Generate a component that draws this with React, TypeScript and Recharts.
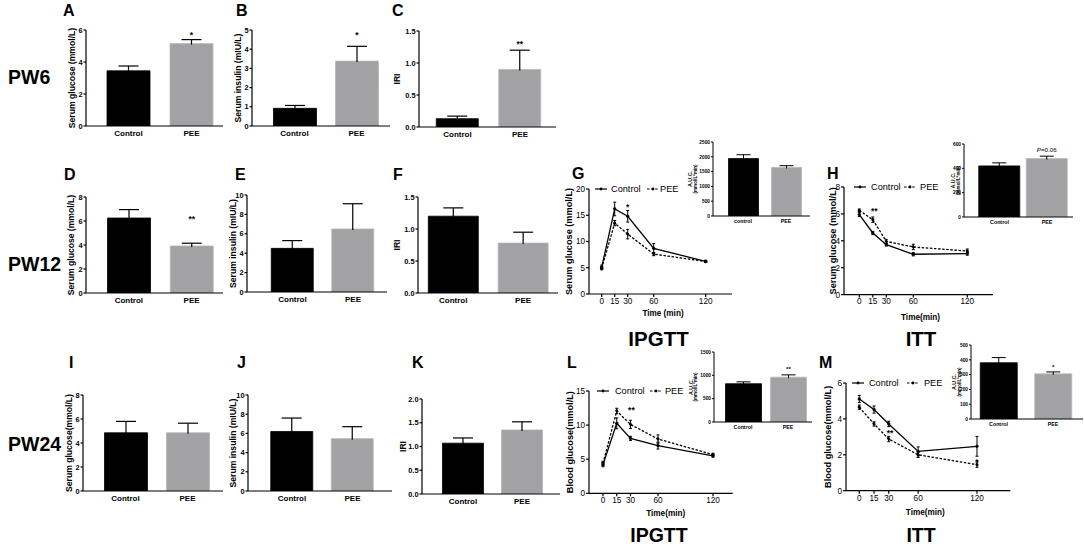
import React from 'react';
import {
  BarChart, Bar, Cell, XAxis, YAxis, LabelList, LineChart, Line, ErrorBar, ReferenceDot, Legend,
} from 'recharts';

const FONT = '"Liberation Sans", Arial, Helvetica, sans-serif';
const BLACK = '#000000';
const GREY = '#a2a2a5';

// ---------- categories ----------
const groups = ['Control', 'PEE'];
const groupsLower = ['control', 'PEE'];

// ---------- PW6 ----------
const glucosePW6 = [3.45, 5.15];
const glucosePW6Sem = [0.3, 0.25];
const glucosePW6Sig = ['', '*'];
const insulinPW6 = [0.92, 3.38];
const insulinPW6Sem = [0.15, 0.77];
const insulinPW6Sig = ['', '*'];
const iriPW6 = [0.13, 0.9];
const iriPW6Sem = [0.04, 0.3];
const iriPW6Sig = ['', '**'];

// ---------- PW12 ----------
const glucosePW12 = [6.25, 3.92];
const glucosePW12Sem = [0.7, 0.23];
const glucosePW12Sig = ['', '**'];
const insulinPW12 = [4.5, 6.5];
const insulinPW12Sem = [0.8, 2.6];
const iriPW12 = [1.2, 0.78];
const iriPW12Sem = [0.13, 0.17];

// ---------- PW24 ----------
const glucosePW24 = [4.85, 4.85];
const glucosePW24Sem = [0.95, 0.8];
const insulinPW24 = [6.2, 5.45];
const insulinPW24Sem = [1.4, 1.25];
const iriPW24 = [1.07, 1.35];
const iriPW24Sem = [0.11, 0.17];

// ---------- time courses ----------
const timePoints = [0, 15, 30, 60, 120];
const timeTicks = [0, 15, 30, 60, 120];

// G: IPGTT PW12
const ipgtt12Control = [5.1, 16.2, 14.8, 8.7, 6.2];
const ipgtt12ControlSem = [0.4, 1.3, 1.1, 0.9, 0.2];
const ipgtt12Pee = [4.9, 13.5, 11.4, 7.6, 6.2];
const ipgtt12PeeSem = [0.3, 0.5, 0.9, 0.3, 0.2];
const ipgtt12Marks = [{ t: 30, v: 16.95, text: '*' }];
const ipgtt12Auc = [1940, 1640];
const ipgtt12AucSem = [130, 60];
const ipgtt12AucSig = ['', ''];

// H: ITT PW12
const itt12Control = [5.95, 4.58, 3.71, 3.0, 3.05];
const itt12ControlSem = [0.15, 0.12, 0.1, 0.12, 0.12];
const itt12Pee = [6.26, 5.57, 3.96, 3.54, 3.24];
const itt12PeeSem = [0.1, 0.2, 0.15, 0.2, 0.15];
const itt12Marks = [{ t: 16.7, v: 6.34, text: '**' }];
const itt12Auc = [420, 480];
const itt12AucSem = [25, 20];
const itt12AucSig = ['', 'P=0.06'];

// L: IPGTT PW24
const ipgtt24Control = [4.2, 10.26, 8.06, 6.99, 5.5];
const ipgtt24ControlSem = [0.3, 0.8, 0.3, 0.5, 0.2];
const ipgtt24Pee = [4.4, 12.07, 10.1, 7.96, 5.67];
const ipgtt24PeeSem = [0.3, 0.4, 0.6, 0.6, 0.2];
const ipgtt24Marks = [{ t: 31, v: 12.46, text: '**' }];
const ipgtt24Auc = [820, 960];
const ipgtt24AucSem = [40, 50];
const ipgtt24AucSig = ['', '**'];

// M: ITT PW24
const itt24Control = [5.11, 4.52, 3.72, 2.19, 2.47];
const itt24ControlSem = [0.2, 0.2, 0.15, 0.25, 0.55];
const itt24Pee = [4.65, 3.72, 2.88, 2.0, 1.45];
const itt24PeeSem = [0.12, 0.12, 0.15, 0.15, 0.15];
const itt24Marks = [
  { t: 31.3, v: 3.31, text: '**' },
  { t: 120, v: 1.73, text: '*' },
];
const itt24Auc = [380, 305];
const itt24AucSem = [35, 13];
const itt24AucSig = ['', '*'];

// ---------- helpers ----------
type BarPanelProps = {
  axisX: number; plotTop: number; plotH: number; axisEnd: number;
  c1: number; c2: number; barSize: number; yAxisW: number;
  values: number[]; sems: number[]; sig?: string[]; cats: string[];
  domain: [number, number]; ticks: number[]; decimals: number;
  yLabel: string[]; labelX: number; labelGap?: number; labelFonts: number[];
  tickFont: number; catFont: number; capW: number; sigFont: number; sigLift: number;
  tickLen: number; strokeW: number; xAxisH: number; catMargin: number;
};

function BarPanel(p: BarPanelProps) {
  const mTop = 12;
  const mBottom = 2;
  const mRight = 6;
  const plotW = p.axisEnd - p.axisX;
  const d = p.c2 - p.c1;
  const padL = Math.max(0, p.c1 - p.axisX - d / 2);
  const padR = Math.max(0, p.axisEnd - p.c2 - d / 2);
  const left = p.axisX - p.yAxisW;
  const top = p.plotTop - mTop;
  const width = p.yAxisW + plotW + mRight;
  const height = mTop + p.plotH + p.xAxisH + mBottom;
  const data = p.cats.map((c, i) => ({
    name: c, mean: p.values[i], sem: p.sems[i], sig: p.sig ? p.sig[i] : '',
  }));

  const errShape = (props: any) => {
    const { x, y, width: w, height: h } = props;
    if (h == null || !isFinite(h) || !isFinite(y)) return <g />;
    const cx = x + w / 2;
    return (
      <g>
        <line x1={cx} x2={cx} y1={y} y2={y + h + 1} stroke={BLACK} strokeWidth={p.strokeW} />
        <line x1={cx - p.capW / 2} x2={cx + p.capW / 2} y1={y} y2={y} stroke={BLACK} strokeWidth={p.strokeW} />
      </g>
    );
  };

  const sigContent = (props: any) => {
    const { x, y, width: w, value } = props;
    if (!value) return null;
    const cx = Number(x) + Number(w) / 2;
    const s = String(value);
    const isP = s.startsWith('P');
    const base = Number(y) - p.sigLift + (isP ? 0.36 : 0.58) * p.sigFont;
    return (
      <text x={cx} y={base} textAnchor="middle" fontSize={p.sigFont} fill={BLACK} fontWeight={isP ? 400 : 700}>
        {isP ? (<><tspan fontStyle="italic">P</tspan>{s.slice(1)}</>) : s}
      </text>
    );
  };

  const yLabel = () => {
    const cx = p.labelX - left;
    const cy = mTop + p.plotH / 2;
    const gap = p.labelGap ?? 0;
    const n = p.yLabel.length;
    return (
      <g>
        {p.yLabel.map((line, i) => {
          const lx = cx + (i - (n - 1) / 2) * gap;
          return (
            <text key={i} x={lx} y={cy} transform={`rotate(-90 ${lx} ${cy})`} textAnchor="middle"
              dominantBaseline="central" fontSize={p.labelFonts[i]} fontWeight={700} fill={BLACK}>
              {line}
            </text>
          );
        })}
      </g>
    );
  };

  return (
    <div style={{ position: 'absolute', left, top }}>
      <BarChart width={width} height={height} data={data} barSize={p.barSize}
        margin={{ top: mTop, right: mRight, bottom: mBottom, left: 0 }}>
        <XAxis dataKey="name" padding={{ left: padL, right: padR }} height={p.xAxisH} interval={0}
          tickLine={false} tickSize={0} tickMargin={p.catMargin}
          axisLine={{ stroke: BLACK, strokeWidth: p.strokeW }}
          tick={{ fill: BLACK, fontSize: p.catFont, fontWeight: 700 }} />
        <YAxis width={p.yAxisW} domain={p.domain} ticks={p.ticks} allowDataOverflow interval={0}
          tickFormatter={(v: number) => v.toFixed(p.decimals)} tickSize={p.tickLen} tickMargin={1}
          tick={{ fill: BLACK, fontSize: p.tickFont, fontWeight: 700 }}
          axisLine={{ stroke: BLACK, strokeWidth: p.strokeW }}
          tickLine={{ stroke: BLACK, strokeWidth: p.strokeW }}
          label={yLabel} />
        <Bar dataKey="mean" stackId="s" isAnimationActive={false}>
          {data.map((_, i) => (
            <Cell key={i} fill={i === 0 ? BLACK : GREY} stroke={i === 0 ? BLACK : '#b8b8bb'} strokeWidth={0.8} />
          ))}
        </Bar>
        <Bar dataKey="sem" stackId="s" isAnimationActive={false} shape={errShape}>
          <LabelList dataKey="sig" position="top" content={sigContent} />
        </Bar>
      </BarChart>
    </div>
  );
}

type Mark = { t: number; v: number; text: string };
type LinePanelProps = {
  axisX: number; plotTop: number; plotH: number; axisEnd: number; x0: number; x120: number;
  yAxisW: number; xAxisH: number; domainY: [number, number]; ticksY: number[];
  ctrl: number[]; ctrlSem: number[]; pee: number[]; peeSem: number[]; marks: Mark[];
  yLabel: string; labelX: number; xLabel: string; xLabelX: number; xLabelY: number;
  legendX: number; legendY: number; legendOffsets: number[];
};

function LinePanel(p: LinePanelProps) {
  const mTop = 10;
  const mBottom = 2;
  const mRight = 4;
  const plotW = p.axisEnd - p.axisX;
  const ppm = (p.x120 - p.x0) / 120;
  const xDomain: [number, number] = [-(p.x0 - p.axisX) / ppm, (p.axisEnd - p.x0) / ppm];
  const left = p.axisX - p.yAxisW;
  const top = p.plotTop - mTop;
  const width = p.yAxisW + plotW + mRight;
  const height = mTop + p.plotH + p.xAxisH + mBottom;
  const data = timePoints.map((t, i) => ({
    t, control: p.ctrl[i], controlSem: p.ctrlSem[i], pee: p.pee[i], peeSem: p.peeSem[i],
  }));

  const yLabel = () => {
    const cx = p.labelX - left;
    const cy = mTop + p.plotH / 2;
    return (
      <text x={cx} y={cy} transform={`rotate(-90 ${cx} ${cy})`} textAnchor="middle" dominantBaseline="central"
        fontSize={9.2} fontWeight={700} fill={BLACK}>{p.yLabel}</text>
    );
  };
  const xLabel = () => (
    <text x={p.xLabelX - left} y={p.xLabelY - top + 2.9} textAnchor="middle" fontSize={8.2} fontWeight={700} fill={BLACK}>
      {p.xLabel}
    </text>
  );

  const legendContent = (lp: any) => {
    const payload = (lp && lp.payload) || [];
    return (
      <div style={{ position: 'relative', width: 100, height: 10, fontSize: 9.2, color: BLACK, lineHeight: '10px' }}>
        {payload.map((e: any, i: number) => {
          const dashed = i === 1;
          return (
            <React.Fragment key={i}>
              <svg width={12} height={10} style={{ position: 'absolute', left: p.legendOffsets[i * 2], top: 0 }}>
                <line x1={0} y1={5} x2={12} y2={5} stroke={BLACK} strokeWidth={1.2} strokeDasharray={dashed ? '2.5 1.6' : undefined} />
                <circle cx={6} cy={5} r={1.4} fill={BLACK} />
              </svg>
              <span style={{ position: 'absolute', left: p.legendOffsets[i * 2 + 1], top: 0, whiteSpace: 'nowrap' }}>{e.value}</span>
            </React.Fragment>
          );
        })}
      </div>
    );
  };

  const markLabel = (text: string) => (lp: any) => {
    const vb = lp.viewBox || {};
    const cx = (vb.x ?? 0) + (vb.width ?? 0) / 2;
    const cy = (vb.y ?? 0) + (vb.height ?? 0) / 2;
    return (
      <text x={cx} y={cy + 0.58 * 8.5} textAnchor="middle" fontSize={8.5} fontWeight={700} fill={BLACK}>{text}</text>
    );
  };

  return (
    <div style={{ position: 'absolute', left, top }}>
      <LineChart width={width} height={height} data={data}
        margin={{ top: mTop, right: mRight, bottom: mBottom, left: 0 }}>
        <XAxis type="number" dataKey="t" domain={xDomain} ticks={timeTicks} allowDataOverflow interval={0}
          height={p.xAxisH} tickSize={3} tickMargin={1}
          tick={{ fill: BLACK, fontSize: 8.2 }}
          axisLine={{ stroke: BLACK, strokeWidth: 1.2 }} tickLine={{ stroke: BLACK, strokeWidth: 1.2 }}
          label={xLabel} />
        <YAxis width={p.yAxisW} domain={p.domainY} ticks={p.ticksY} allowDataOverflow interval={0}
          tickSize={3} tickMargin={1}
          tick={{ fill: BLACK, fontSize: 8.2 }}
          axisLine={{ stroke: BLACK, strokeWidth: 1.2 }} tickLine={{ stroke: BLACK, strokeWidth: 1.2 }}
          label={yLabel} />
        <Legend layout="horizontal" verticalAlign="middle" align="center" content={legendContent}
          wrapperStyle={{ left: p.legendX - left, top: p.legendY - top - 5, width: 100, height: 10 }} />
        <Line type="linear" dataKey="control" name="Control" stroke={BLACK} strokeWidth={1.3}
          dot={{ r: 1.4, fill: BLACK, stroke: BLACK, strokeWidth: 0.5 }} activeDot={false} isAnimationActive={false}>
          <ErrorBar dataKey="controlSem" width={1.5} stroke={BLACK} strokeWidth={1} direction="y" />
        </Line>
        <Line type="linear" dataKey="pee" name="PEE" stroke={BLACK} strokeWidth={1.3} strokeDasharray="2.5 1.6"
          dot={{ r: 1.4, fill: BLACK, stroke: BLACK, strokeWidth: 0.5 }} activeDot={false} isAnimationActive={false}>
          <ErrorBar dataKey="peeSem" width={1.5} stroke={BLACK} strokeWidth={1} direction="y" />
        </Line>
        {p.marks.map((m, i) => (
          <ReferenceDot key={i} x={m.t} y={m.v} r={0} fill="none" stroke="none" label={markLabel(m.text)} />
        ))}
      </LineChart>
    </div>
  );
}

const mainBar = {
  yAxisW: 40, labelFonts: [8.6], tickFont: 7.4, catFont: 8, capW: 20, sigFont: 8.5,
  tickLen: 2.5, strokeW: 1.2, xAxisH: 16, catMargin: 4,
};
const insetBar = {
  yAxisW: 30, tickFont: 4.8, catFont: 5.3, capW: 14, sigFont: 6.2,
  tickLen: 2, strokeW: 1, xAxisH: 10, catMargin: 3, labelGap: 5, labelFonts: [5.4, 4.5],
};
const aucLabel = ['A.U.C.', '(mmol/L*min)'];

export default function App() {
  const big = (x: number, y: number, t: string, size: number, anchor: 'start' | 'middle' = 'start') => (
    <text x={x} y={y} fontSize={size} fontWeight={700} fill={BLACK} textAnchor={anchor}>{t}</text>
  );
  return (
    <div style={{ position: 'absolute', left: 0, top: 0, width: 1084, height: 548, background: '#fff', fontFamily: FONT, overflow: 'hidden' }}>
      {/* Row PW6 */}
      <BarPanel {...mainBar} axisX={86} plotTop={30} plotH={96} axisEnd={223} c1={128.5} c2={191.5} barSize={43}
        values={glucosePW6} sems={glucosePW6Sem} sig={glucosePW6Sig} cats={groups}
        domain={[0, 6]} ticks={[0, 2, 4, 6]} decimals={0} yLabel={['Serum glucose (mmol/L)']} labelX={72} sigLift={6.6} />
      <BarPanel {...mainBar} axisX={252} plotTop={30} plotH={96} axisEnd={390} c1={294.5} c2={356.5} barSize={43}
        values={insulinPW6} sems={insulinPW6Sem} sig={insulinPW6Sig} cats={groups}
        domain={[0, 5]} ticks={[0, 1, 2, 3, 4, 5]} decimals={0} yLabel={['Serum insulin (mIU/L)']} labelX={238} sigLift={13} />
      <BarPanel {...mainBar} axisX={419} plotTop={31} plotH={96} axisEnd={556} c1={457.5} c2={520} barSize={42}
        values={iriPW6} sems={iriPW6Sem} sig={iriPW6Sig} cats={groups}
        domain={[0, 1.5]} ticks={[0, 0.5, 1, 1.5]} decimals={1} yLabel={['IRI']} labelX={397} sigLift={8} />

      {/* Row PW12 */}
      <BarPanel {...mainBar} axisX={86} plotTop={197} plotH={96} axisEnd={223} c1={129} c2={192} barSize={43}
        values={glucosePW12} sems={glucosePW12Sem} sig={glucosePW12Sig} cats={groups}
        domain={[0, 8]} ticks={[0, 2, 4, 6, 8]} decimals={0} yLabel={['Serum glucose (mmol/L)']} labelX={71} sigLift={26} />
      <BarPanel {...mainBar} axisX={247} plotTop={195} plotH={97} axisEnd={387} c1={292.5} c2={353} barSize={42}
        values={insulinPW12} sems={insulinPW12Sem} cats={groups}
        domain={[0, 10]} ticks={[0, 2, 4, 6, 8, 10]} decimals={0} yLabel={['Serum insulin (mIU/L)']} labelX={233} sigLift={8} />
      <BarPanel {...mainBar} axisX={418} plotTop={197} plotH={96} axisEnd={558} c1={453.7} c2={524.5} barSize={50}
        values={iriPW12} sems={iriPW12Sem} cats={groups}
        domain={[0, 1.5]} ticks={[0, 0.5, 1, 1.5]} decimals={1} yLabel={['IRI']} labelX={397} sigLift={8} />

      {/* Row PW24 */}
      <BarPanel {...mainBar} axisX={83} plotTop={395} plotH={96} axisEnd={223} c1={125.5} c2={187.5} barSize={43}
        values={glucosePW24} sems={glucosePW24Sem} cats={groups}
        domain={[0, 8]} ticks={[0, 2, 4, 6, 8]} decimals={0} yLabel={['Serum glucose(mmol/L)']} labelX={69} sigLift={8} />
      <BarPanel {...mainBar} axisX={248} plotTop={395} plotH={96} axisEnd={392} c1={292} c2={352.5} barSize={42}
        values={insulinPW24} sems={insulinPW24Sem} cats={groups}
        domain={[0, 10]} ticks={[0, 2, 4, 6, 8, 10]} decimals={0} yLabel={['Serum insulin (mIU/L)']} labelX={233} sigLift={8} />
      <BarPanel {...mainBar} axisX={422} plotTop={399} plotH={95} axisEnd={560} c1={463} c2={522} barSize={41}
        values={iriPW24} sems={iriPW24Sem} cats={groups}
        domain={[0, 2]} ticks={[0, 0.5, 1, 1.5, 2]} decimals={1} yLabel={['IRI']} labelX={403} sigLift={8} />

      {/* G */}
      <LinePanel axisX={589} plotTop={189} plotH={105} axisEnd={732} x0={601.7} x120={705.7} yAxisW={40} xAxisH={26}
        domainY={[0, 20]} ticksY={[0, 5, 10, 15, 20]}
        ctrl={ipgtt12Control} ctrlSem={ipgtt12ControlSem} pee={ipgtt12Pee} peeSem={ipgtt12PeeSem} marks={ipgtt12Marks}
        yLabel="Serum glucose (mmol/L)" labelX={569} xLabel="Time (min)" xLabelX={663} xLabelY={313.5}
        legendX={595} legendY={189} legendOffsets={[0, 16, 52, 65]} />
      <BarPanel {...insetBar} axisX={713} plotTop={142} plotH={74} axisEnd={810} c1={743} c2={786} barSize={30}
        values={ipgtt12Auc} sems={ipgtt12AucSem} sig={ipgtt12AucSig} cats={groupsLower}
        domain={[0, 2500]} ticks={[0, 500, 1000, 1500, 2000, 2500]} decimals={0} yLabel={aucLabel} labelX={692.5} sigLift={7} />

      {/* H */}
      <LinePanel axisX={844} plotTop={186.7} plotH={107.6} axisEnd={993} x0={859.3} x120={967.3} yAxisW={40} xAxisH={28}
        domainY={[0, 8]} ticksY={[0, 2, 4, 6, 8]}
        ctrl={itt12Control} ctrlSem={itt12ControlSem} pee={itt12Pee} peeSem={itt12PeeSem} marks={itt12Marks}
        yLabel="Serum glucose (mmol/L)" labelX={833} xLabel="Time(min)" xLabelX={920.5} xLabelY={316.7}
        legendX={854} legendY={187} legendOffsets={[0, 17, 50, 66]} />
      <BarPanel {...insetBar} axisX={964} plotTop={144} plotH={73} axisEnd={1073} c1={999.5} c2={1047} barSize={41}
        values={itt12Auc} sems={itt12AucSem} sig={itt12AucSig} cats={groups}
        domain={[0, 600]} ticks={[0, 200, 400, 600]} decimals={0} yLabel={aucLabel} labelX={955.5} sigLift={6} />

      {/* L */}
      <LinePanel axisX={589.3} plotTop={391} plotH={102.3} axisEnd={733} x0={603.3} x120={713.3} yAxisW={40} xAxisH={26}
        domainY={[0, 15]} ticksY={[0, 5, 10, 15]}
        ctrl={ipgtt24Control} ctrlSem={ipgtt24ControlSem} pee={ipgtt24Pee} peeSem={ipgtt24PeeSem} marks={ipgtt24Marks}
        yLabel="Blood glucose(mmol/L)" labelX={570} xLabel="Time(min)" xLabelX={666} xLabelY={513.3}
        legendX={597} legendY={391} legendOffsets={[0, 18, 53, 68]} />
      <BarPanel {...insetBar} axisX={714} plotTop={352} plotH={70} axisEnd={812} c1={743} c2={788} barSize={36}
        values={ipgtt24Auc} sems={ipgtt24AucSem} sig={ipgtt24AucSig} cats={groups}
        domain={[0, 1500]} ticks={[0, 500, 1000, 1500]} decimals={0} yLabel={aucLabel} labelX={693} sigLift={7} />

      {/* M */}
      <LinePanel axisX={845.7} plotTop={383.3} plotH={107.7} axisEnd={1010} x0={859} x120={976.7} yAxisW={40} xAxisH={26}
        domainY={[0, 6]} ticksY={[0, 2, 4, 6]}
        ctrl={itt24Control} ctrlSem={itt24ControlSem} pee={itt24Pee} peeSem={itt24PeeSem} marks={itt24Marks}
        yLabel="Blood glucose(mmol/L)" labelX={828} xLabel="Time(min)" xLabelX={925} xLabelY={512.7}
        legendX={852} legendY={383} legendOffsets={[0, 17, 55, 72]} />
      <BarPanel {...insetBar} axisX={971} plotTop={345} plotH={74} axisEnd={1083} c1={998.5} c2={1053} barSize={37}
        values={itt24Auc} sems={itt24AucSem} sig={itt24AucSig} cats={groups}
        domain={[0, 500]} ticks={[0, 100, 200, 300, 400, 500]} decimals={0} yLabel={aucLabel} labelX={956.5} sigLift={7} />

      {/* Text overlay */}
      <svg width={1084} height={548} style={{ position: 'absolute', left: 0, top: 0, pointerEvents: 'none' }}>
        {big(8, 84, 'PW6', 19.5)}
        {big(8, 271, 'PW12', 19.5)}
        {big(8, 451, 'PW24', 19.5)}
        {big(63, 16, 'A', 16)}
        {big(236, 16, 'B', 16)}
        {big(392, 16, 'C', 16)}
        {big(64, 180, 'D', 16)}
        {big(235, 180, 'E', 16)}
        {big(393, 180, 'F', 16)}
        {big(572, 179, 'G', 16)}
        {big(827, 179, 'H', 16)}
        {big(69, 368, 'I', 16)}
        {big(237, 368, 'J', 16)}
        {big(412, 368, 'K', 16)}
        {big(567, 368, 'L', 16)}
        {big(819, 368, 'M', 16)}
        {big(658.5, 346, 'IPGTT', 20.5, 'middle')}
        {big(921, 346, 'ITT', 20.5, 'middle')}
        {big(659, 542, 'IPGTT', 19.5, 'middle')}
        {big(921, 542, 'ITT', 19.5, 'middle')}
      </svg>
    </div>
  );
}
